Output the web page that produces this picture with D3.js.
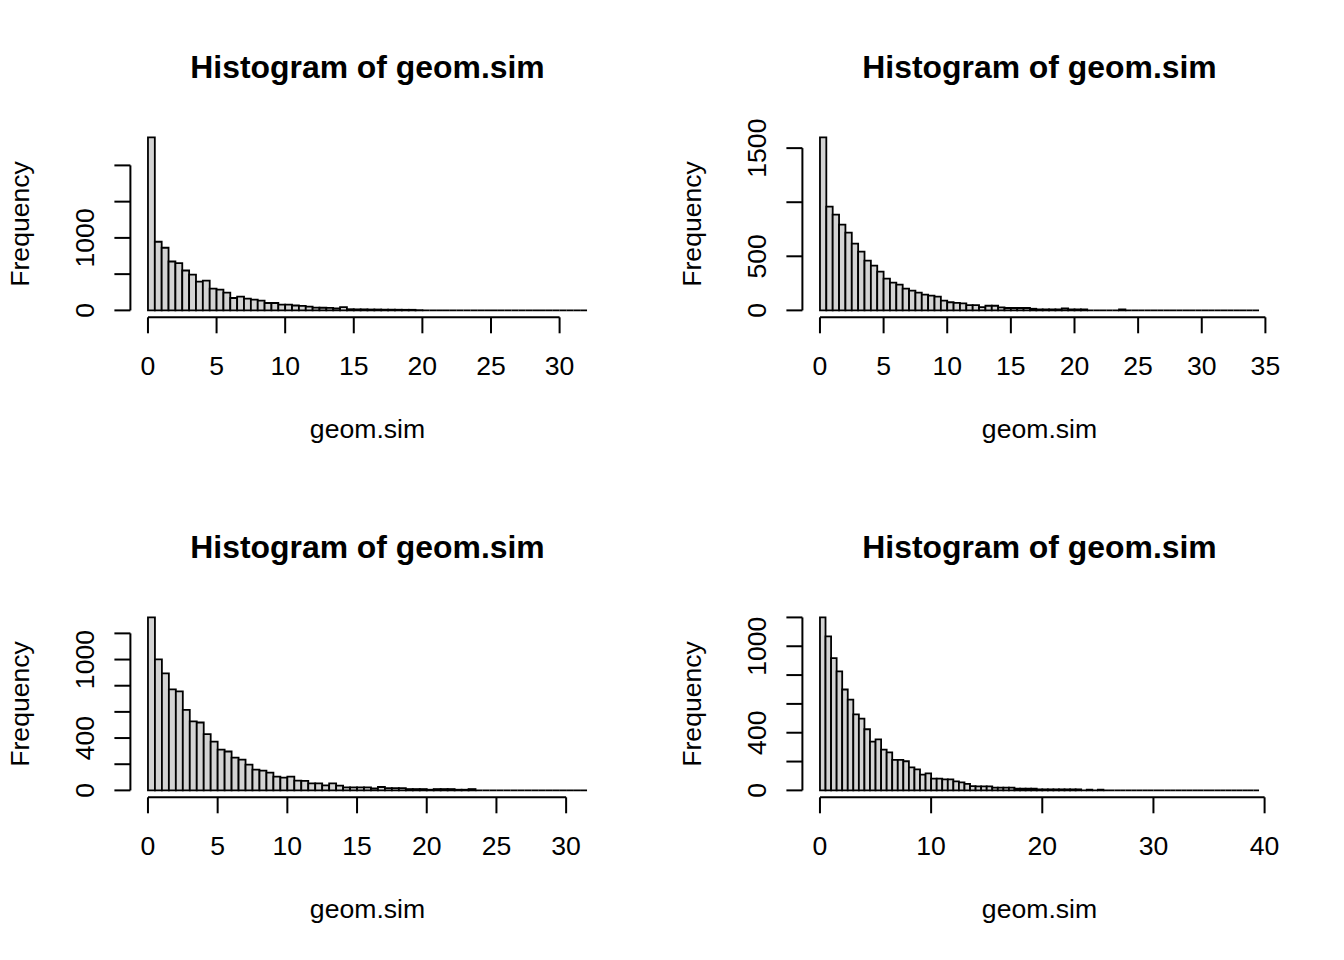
<!DOCTYPE html>
<html>
<head>
<meta charset="utf-8">
<script src="https://cdn.jsdelivr.net/npm/d3@7"></script>
<style>
  html, body { margin: 0; padding: 0; background: #ffffff; }
  svg { display: block; }
  text { font-family: "Liberation Sans", Arial, sans-serif; fill: #000; }
</style>
</head>
<body>
<svg id="chart" width="1344" height="960"></svg>
<script>
// ---- data (bin width 0.5, breaks start at 0) ----
const binWidth = 0.5;

const counts1 = [2386, 947, 864, 674, 651, 550, 494, 397, 411, 300, 286, 245, 171, 189, 162, 148,
  134, 102, 102, 80, 79, 67, 62, 52, 38, 36, 34, 28, 44, 16, 14, 14, 12, 12, 10, 10, 9, 8, 8, 3,
  0, 0, 0, 0, 0, 0, 0, 0, 0, 0, 0, 0, 0, 0, 0, 0, 0, 0, 0, 0, 0, 0, 0, 0];

const counts2 = [1599, 960, 886, 793, 719, 617, 543, 460, 414, 358, 293, 256, 238, 201, 182, 164,
  145, 136, 127, 90, 75, 70, 65, 49, 49, 31, 43, 43, 28, 22, 22, 22, 22, 15, 9, 9, 9, 9, 19, 9,
  9, 9, 0, 0, 0, 0, 0, 9, 0, 0, 0, 0, 0, 0, 0, 0, 0, 0, 0, 0, 0, 0, 0, 0, 0, 0, 0, 0, 0];

const counts3 = [1322, 1002, 895, 772, 757, 616, 527, 519, 430, 373, 312, 297, 251, 235, 197, 159,
  151, 136, 105, 97, 105, 74, 73, 54, 54, 38, 54, 36, 23, 23, 23, 23, 15, 26, 18, 18, 18, 10, 10,
  10, 5, 10, 10, 10, 5, 5, 10, 0, 0, 0, 0, 0, 0, 0, 0, 0, 0, 0, 0, 0, 0, 0, 0];

const counts4 = [1200, 1068, 918, 825, 700, 630, 528, 498, 424, 338, 354, 283, 264, 211, 211, 202,
  160, 146, 109, 118, 81, 81, 76, 76, 63, 55, 45, 30, 28, 28, 28, 19, 19, 19, 19, 12, 12, 12, 12,
  7, 7, 7, 7, 7, 7, 7, 7, 0, 5, 0, 5, 0, 0, 0, 0, 0, 0, 0, 0, 0, 0, 0, 0, 0, 0, 0, 0, 0, 0, 0, 0,
  0, 0, 0, 0, 0, 0, 0, 0];

const xTicks1 = [0, 5, 10, 15, 20, 25, 30];
const xTicks2 = [0, 5, 10, 15, 20, 25, 30, 35];
const xTicks3 = [0, 5, 10, 15, 20, 25, 30];
const xTicks4 = [0, 10, 20, 30, 40];

const yTicks1 = [0, 500, 1000, 1500, 2000];
const yTicks2 = [0, 500, 1000, 1500];
const yTicks3 = [0, 200, 400, 600, 800, 1000, 1200];
const yTicks4 = [0, 200, 400, 600, 800, 1000, 1200];

const yLabels1 = [0, 1000];
const yLabels2 = [0, 500, 1500];
const yLabels3 = [0, 400, 1000];
const yLabels4 = [0, 400, 1000];

const titleText = "Histogram of geom.sim";
const xLabelText = "geom.sim";
const yLabelText = "Frequency";

const panels = [
  { counts: counts1, xTicks: xTicks1, yTicks: yTicks1, yLabels: yLabels1, col: 0, row: 0 },
  { counts: counts2, xTicks: xTicks2, yTicks: yTicks2, yLabels: yLabels2, col: 1, row: 0 },
  { counts: counts3, xTicks: xTicks3, yTicks: yTicks3, yLabels: yLabels3, col: 0, row: 1 },
  { counts: counts4, xTicks: xTicks4, yTicks: yTicks4, yLabels: yLabels4, col: 1, row: 1 }
];

// ---- layout ----
const svg = d3.select("#chart");
const cellW = 672, cellH = 480;
const plotL = 130.4, plotR = 604.6, plotT = 130.5, plotB = 317.3;
const fontBase = 26.6;
const lw = 2;

panels.forEach(p => {
  const ox = p.col * cellW, oy = p.row * cellH;
  const g = svg.append("g").attr("transform", `translate(${ox},${oy})`);
  const n = p.counts.length;
  const xmax = n * binWidth;
  const ymax = d3.max(p.counts);

  const x = d3.scaleLinear()
    .domain([-0.04 * xmax, xmax * 1.04])
    .range([plotL, plotR]);
  const y = d3.scaleLinear()
    .domain([-0.04 * ymax, ymax * 1.04])
    .range([plotB, plotT]);

  // bars (paths so that zero-count bins still draw as a line)
  g.append("g").selectAll("path")
    .data(p.counts)
    .join("path")
    .attr("d", (c, i) => {
      const x0 = x(i * binWidth), x1 = x((i + 1) * binWidth);
      const yb = y(0), yt = y(c);
      return `M${x0},${yb}V${yt}H${x1}V${yb}Z`;
    })
    .attr("fill", "#D3D3D3")
    .attr("stroke", "#000")
    .attr("stroke-width", 1.8)
    .attr("stroke-linejoin", "miter");

  // x axis
  const xa = g.append("g").attr("transform", `translate(0,${plotB})`);
  xa.append("path")
    .attr("d", `M${x(d3.min(p.xTicks))},0H${x(d3.max(p.xTicks))}`)
    .attr("stroke", "#000").attr("stroke-width", lw).attr("fill", "none");
  xa.selectAll("line.tick")
    .data(p.xTicks)
    .join("line")
    .attr("class", "tick")
    .attr("x1", d => x(d)).attr("x2", d => x(d))
    .attr("y1", 0).attr("y2", 16)
    .attr("stroke", "#000").attr("stroke-width", lw);
  xa.selectAll("text")
    .data(p.xTicks)
    .join("text")
    .attr("x", d => x(d))
    .attr("y", 57.5)
    .attr("text-anchor", "middle")
    .attr("font-size", fontBase)
    .text(d => d);

  // y axis
  const ya = g.append("g").attr("transform", `translate(${plotL},0)`);
  ya.append("path")
    .attr("d", `M0,${y(d3.min(p.yTicks))}V${y(d3.max(p.yTicks))}`)
    .attr("stroke", "#000").attr("stroke-width", lw).attr("fill", "none");
  ya.selectAll("line.tick")
    .data(p.yTicks)
    .join("line")
    .attr("class", "tick")
    .attr("x1", 0).attr("x2", -16)
    .attr("y1", d => y(d)).attr("y2", d => y(d))
    .attr("stroke", "#000").attr("stroke-width", lw);
  ya.selectAll("text")
    .data(p.yLabels)
    .join("text")
    .attr("transform", d => `translate(-36,${y(d)}) rotate(-90)`)
    .attr("text-anchor", "middle")
    .attr("font-size", fontBase)
    .text(d => d);

  // title
  g.append("text")
    .attr("x", (plotL + plotR) / 2)
    .attr("y", 78)
    .attr("text-anchor", "middle")
    .attr("font-size", 31.9)
    .attr("font-weight", "bold")
    .text(titleText);

  // x label
  g.append("text")
    .attr("x", (plotL + plotR) / 2)
    .attr("y", 438)
    .attr("text-anchor", "middle")
    .attr("font-size", fontBase)
    .text(xLabelText);

  // y label
  g.append("text")
    .attr("transform", `translate(29,${(plotT + plotB) / 2}) rotate(-90)`)
    .attr("text-anchor", "middle")
    .attr("font-size", fontBase)
    .text(yLabelText);
});
</script>
</body>
</html>
